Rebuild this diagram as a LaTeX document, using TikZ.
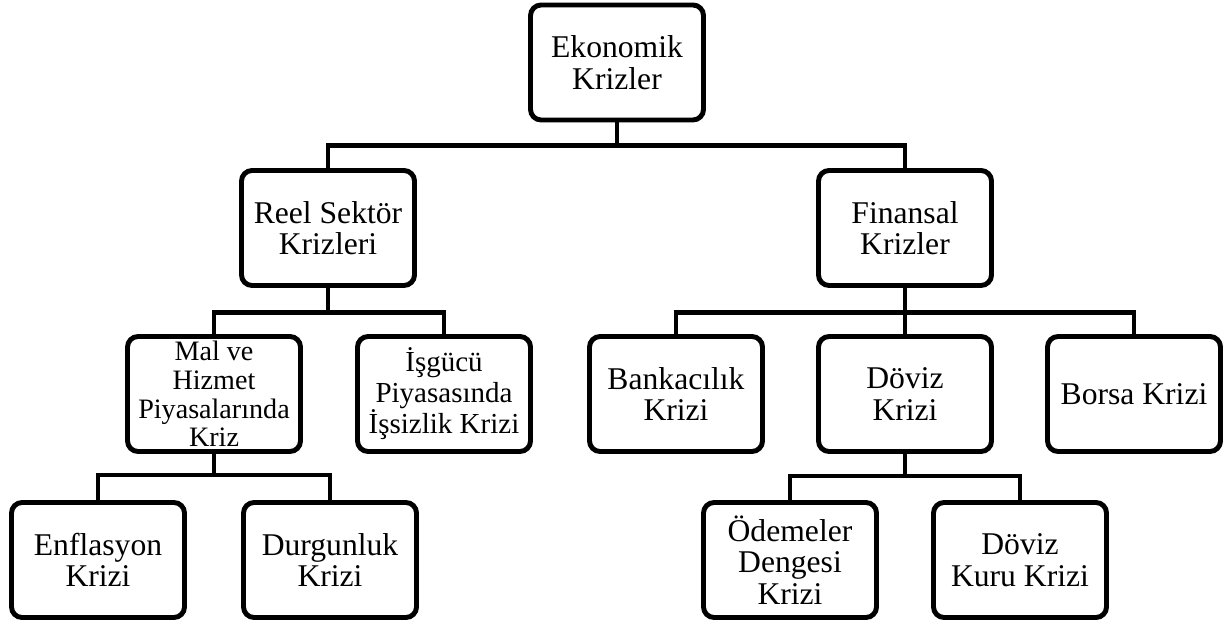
\documentclass[tikz,border=0pt]{standalone}
\usepackage{fontspec}
\setmainfont{Liberation Serif}
\usepackage{tikz}
\usetikzlibrary{positioning,calc}
\tikzset{
  crisis/.style={rectangle,rounded corners=6pt,draw=black,line width=2.8pt,
    fill=white,font=\fontsize{18}{18}\selectfont,align=center,
    minimum width=3.46cm,minimum height=2.3cm,inner sep=2pt},
  link/.style={line width=2.8pt,color=black}
}

\begin{document}
\begin{tikzpicture}[x=1cm,y=1cm]
  \tikzset{
    smallcrisis/.style={crisis,font=\fontsize{16}{16.4}\selectfont},
    midcrisis/.style={crisis,font=\fontsize{16.5}{17.6}\selectfont}
  }
  \useasboundingbox (0,0) rectangle (24.56,-12.48);

  \node[crisis] (ekonomik) at (12.34,-1.25) {Ekonomik\\Krizler};

  \node[crisis] (reel) at (6.56,-4.56) {Reel Sektör\\Krizleri};
  \node[crisis] (finansal) at (18.10,-4.56) {Finansal\\Krizler};

  \node[smallcrisis] (malhizmet) at (4.28,-7.88)
    {Mal ve\\Hizmet\\Piyasalarında\\Kriz};
  \node[midcrisis] (isgucu) at (8.88,-7.88)
    {İşgücü\\Piyasasında\\İşsizlik Krizi};
  \node[crisis] (bankacilik) at (13.52,-7.88) {Bankacılık\\Krizi};
  \node[crisis] (doviz) at (18.10,-7.88) {Döviz\\Krizi};
  \node[crisis] (borsa) at (22.68,-7.88) {Borsa Krizi};

  \node[crisis] (enflasyon) at (1.96,-11.2) {Enflasyon\\Krizi};
  \node[crisis] (durgunluk) at (6.60,-11.2) {Durgunluk\\Krizi};
  \node[crisis] (odemeler) at (15.80,-11.2) {Ödemeler\\Dengesi\\Krizi};
  \node[crisis] (dovizkuru) at (20.40,-11.2) {Döviz\\Kuru Krizi};

  \draw[link] (ekonomik.south) -- ++(0,-0.46) -| (reel.north);
  \draw[link] (ekonomik.south) -- ++(0,-0.46) -| (finansal.north);

  \draw[link] (reel.south) -- ++(0,-0.5) -| (malhizmet.north);
  \draw[link] (reel.south) -- ++(0,-0.5) -| (isgucu.north);

  \draw[link] (finansal.south) -- ++(0,-0.5) -| (bankacilik.north);
  \draw[link] (finansal.south) -- ++(0,-0.5) -| (doviz.north);
  \draw[link] (finansal.south) -- ++(0,-0.5) -| (borsa.north);

  \draw[link] (malhizmet.south) -- ++(0,-0.42) -| (enflasyon.north);
  \draw[link] (malhizmet.south) -- ++(0,-0.42) -| (durgunluk.north);

  \draw[link] (doviz.south) -- ++(0,-0.44) -| (odemeler.north);
  \draw[link] (doviz.south) -- ++(0,-0.44) -| (dovizkuru.north);
\end{tikzpicture}
\end{document}
